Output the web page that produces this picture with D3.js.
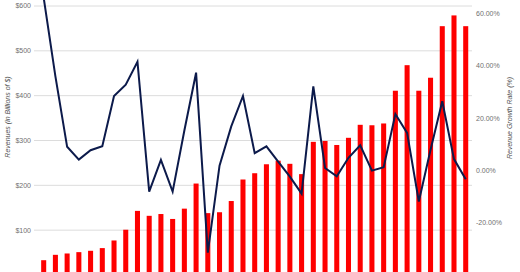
<!DOCTYPE html>
<html>
<head>
<meta charset="utf-8">
<script src="https://cdn.jsdelivr.net/npm/d3@7"></script>
<style>
  body { margin: 0; background: #fff; }
  svg { display: block; font-family: "Liberation Sans", Arial, Helvetica, sans-serif; }
  .tick-label { font-size: 7px; fill: #6f6f6f; }
  .axis-title { font-size: 7px; font-style: italic; fill: #555; }
</style>
</head>
<body>
<div id="chart"></div>
<script>
// revenues in billions of $, one bar per period
let revenue = [33, 45, 48, 51, 54, 60, 77, 101, 143, 132, 136, 125, 148, 204, 138, 140,
               165, 213, 227, 247, 255, 248, 225, 297, 299, 290, 306, 335, 334, 338,
               411, 468, 411, 440, 555, 579, 555];

// year over year growth in %
let growth = [66, 36, 9.1, 4.2, 7.8, 9.3, 28.5, 32.8, 41.6, -8.0, 4.1, -8.0, 15.3, 37.4,
              -31.3, 1.9, 16.9, 28.5, 6.7, 9.3, 3.4, -2.3, -8.8, 32.2, 1.0, -2.2, 4.9,
              9.7, 0, 1.3, 21.6, 14.4, -11.8, 8.0, 26.5, 4.4, -3.3];

let periods = revenue.map((d, i) => i);

let revenueTicks = [100, 200, 300, 400, 500, 600];
let growthTicks = [-20, 0, 20, 40, 60];

function makeGraph() {
  let w = 520, h = 272;

  let svg = d3.select('#chart')
              .append('svg')
              .attr('width', w)
              .attr('height', h);

  let x = d3.scaleBand()
            .domain(periods)
            .range([38, 471.4])
            .paddingInner(0.57)
            .paddingOuter(0.27);

  let yRev = d3.scaleLinear().domain([0, 600]).range([275, 6]);
  let yPct = d3.scaleLinear().domain([-20, 60]).range([223, 13.5]);

  // gridlines follow the revenue axis
  svg.append('g')
     .selectAll('line')
     .data(revenueTicks)
     .enter()
     .append('line')
     .attr('x1', 34)
     .attr('x2', 472)
     .attr('y1', d => yRev(d))
     .attr('y2', d => yRev(d))
     .attr('stroke', '#dcdcdc')
     .attr('stroke-width', 1);

  // left tick labels
  svg.append('g')
     .selectAll('text')
     .data(revenueTicks)
     .enter()
     .append('text')
     .classed('tick-label', true)
     .attr('x', 31)
     .attr('y', d => yRev(d))
     .attr('dy', '0.35em')
     .attr('text-anchor', 'end')
     .text(d => '$' + d);

  // right tick labels
  svg.append('g')
     .selectAll('text')
     .data(growthTicks)
     .enter()
     .append('text')
     .classed('tick-label', true)
     .attr('x', 476)
     .attr('y', d => yPct(d))
     .attr('dy', '0.35em')
     .text(d => d.toFixed(2) + '%');

  // bars
  svg.append('g')
     .selectAll('rect')
     .data(revenue)
     .enter()
     .append('rect')
     .attr('x', (d, i) => x(i))
     .attr('y', d => yRev(d))
     .attr('width', x.bandwidth())
     .attr('height', d => yRev(0) - yRev(d))
     .attr('fill', '#fe0000');

  // growth line
  let line = d3.line()
               .x((d, i) => x(i) + x.bandwidth() / 2)
               .y(d => yPct(d));

  svg.append('path')
     .datum(growth)
     .attr('d', line)
     .attr('fill', 'none')
     .attr('stroke', '#0c1a4b')
     .attr('stroke-width', 2)
     .attr('stroke-linejoin', 'miter');

  // axis titles
  svg.append('text')
     .classed('axis-title', true)
     .attr('transform', 'translate(10, 117) rotate(-90)')
     .attr('text-anchor', 'middle')
     .text('Revenues (in Billions of $)');

  svg.append('text')
     .classed('axis-title', true)
     .attr('transform', 'translate(512, 118) rotate(-90)')
     .attr('text-anchor', 'middle')
     .text('Revenue Growth Rate (%)');
}

window.onload = function() {
  makeGraph();
};
</script>
</body>
</html>
